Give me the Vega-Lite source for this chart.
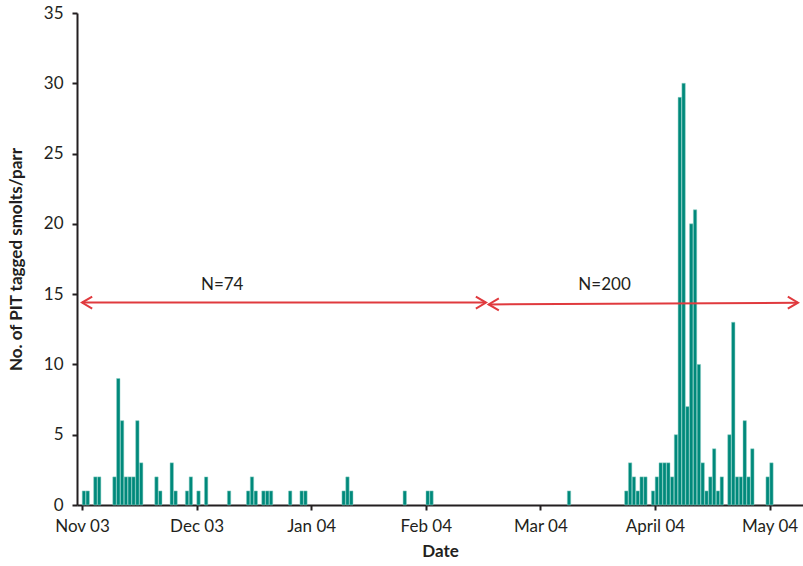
{
  "$schema": "https://vega.github.io/schema/vega-lite/v6.json",
  "width": 726,
  "height": 492,
  "autosize": {"type": "none"},
  "padding": {"left": 77, "top": 13, "right": 0, "bottom": 61},
  "background": "white",
  "config": {
    "view": {"stroke": null},
    "font": "Lato",
    "axis": {
      "grid": false,
      "domainColor": "#231f20",
      "domainWidth": 2,
      "tickColor": "#231f20",
      "tickWidth": 2,
      "tickSize": 5,
      "labelFont": "Lato",
      "labelFontSize": 17,
      "labelColor": "#231f20",
      "titleFont": "Lato",
      "titleFontSize": 17,
      "titleFontWeight": "bold",
      "titleColor": "#231f20"
    }
  },
  "datasets": {
    "counts": [
      {"day": 0, "count": 1}, {"day": 1, "count": 1}, {"day": 3, "count": 2}, {"day": 4, "count": 2},
      {"day": 8, "count": 2}, {"day": 9, "count": 9}, {"day": 10, "count": 6}, {"day": 11, "count": 2},
      {"day": 12, "count": 2}, {"day": 13, "count": 2}, {"day": 14, "count": 6}, {"day": 15, "count": 3},
      {"day": 19, "count": 2}, {"day": 20, "count": 1}, {"day": 23, "count": 3}, {"day": 24, "count": 1},
      {"day": 27, "count": 1}, {"day": 28, "count": 2}, {"day": 30, "count": 1}, {"day": 32, "count": 2},
      {"day": 38, "count": 1}, {"day": 43, "count": 1}, {"day": 44, "count": 2}, {"day": 45, "count": 1},
      {"day": 47, "count": 1}, {"day": 48, "count": 1}, {"day": 49, "count": 1}, {"day": 54, "count": 1},
      {"day": 57, "count": 1}, {"day": 58, "count": 1}, {"day": 68, "count": 1}, {"day": 69, "count": 2},
      {"day": 70, "count": 1}, {"day": 84, "count": 1}, {"day": 90, "count": 1}, {"day": 91, "count": 1},
      {"day": 127, "count": 1},
      {"day": 142, "count": 1}, {"day": 143, "count": 3}, {"day": 144, "count": 2}, {"day": 145, "count": 1},
      {"day": 146, "count": 2}, {"day": 147, "count": 2}, {"day": 149, "count": 1}, {"day": 150, "count": 2},
      {"day": 151, "count": 3}, {"day": 152, "count": 3}, {"day": 153, "count": 3}, {"day": 154, "count": 2},
      {"day": 155, "count": 5}, {"day": 156, "count": 29}, {"day": 157, "count": 30}, {"day": 158, "count": 7},
      {"day": 159, "count": 20}, {"day": 160, "count": 21}, {"day": 161, "count": 10}, {"day": 162, "count": 3},
      {"day": 163, "count": 1}, {"day": 164, "count": 2}, {"day": 165, "count": 4}, {"day": 166, "count": 1},
      {"day": 167, "count": 2}, {"day": 169, "count": 5}, {"day": 170, "count": 13}, {"day": 171, "count": 2},
      {"day": 172, "count": 2}, {"day": 173, "count": 6}, {"day": 174, "count": 2}, {"day": 175, "count": 4},
      {"day": 179, "count": 2}, {"day": 180, "count": 3}
    ],
    "arrows": [
      {"x1": -0.5, "y1": 14.40, "x2": 105.28, "y2": 14.40},
      {"x1": 105.96, "y1": 14.27, "x2": 186.95, "y2": 14.39}
    ],
    "heads": [
      {"x": -0.5, "y": 14.40, "dir": "left"},
      {"x": 105.28, "y": 14.40, "dir": "right"},
      {"x": 105.96, "y": 14.27, "dir": "left"},
      {"x": 186.95, "y": 14.39, "dir": "right"}
    ],
    "labels": [
      {"x": 36.2, "y": 15.65, "label": "N=74"},
      {"x": 136.3, "y": 15.65, "label": "N=200"}
    ]
  },
  "layer": [
    {
      "data": {"name": "counts"},
      "mark": {"type": "bar", "size": 3.4, "color": "#00897b", "stroke": "#8fd0c6", "strokeWidth": 0.5},
      "encoding": {
        "x": {
          "field": "day",
          "type": "quantitative",
          "title": "Date",
          "scale": {"domain": [-0.5, 186.95], "nice": false, "zero": false},
          "axis": {
            "values": [-0.5, 29.5, 59.5, 89.5, 119.5, 149.5, 179.5],
            "labelExpr": "['Nov 03','Dec 03','Jan 04','Feb 04','Mar 04','April 04','May 04'][round((datum.value + 0.5) / 30)]",
            "labelPadding": 8,
            "labelFlush": false,
            "labelOverlap": false,
            "titleY": 46,
            "titleBaseline": "middle"
          }
        },
        "y": {
          "field": "count",
          "type": "quantitative",
          "title": "No. of PIT tagged smolts/parr",
          "scale": {"domain": [0, 35], "nice": false},
          "axis": {
            "values": [0, 5, 10, 15, 20, 25, 30, 35],
            "labelPadding": 9,
            "titleX": -61,
            "titleY": 246,
            "titleBaseline": "middle",
            "titleAlign": "center"
          }
        }
      }
    },
    {
      "data": {"name": "arrows"},
      "mark": {"type": "rule", "color": "#e03a3e", "strokeWidth": 2},
      "encoding": {
        "x": {"field": "x1", "type": "quantitative", "title": "Date"},
        "y": {"field": "y1", "type": "quantitative", "title": "No. of PIT tagged smolts/parr"},
        "x2": {"field": "x2"},
        "y2": {"field": "y2"}
      }
    },
    {
      "data": {"name": "heads"},
      "mark": {"type": "point", "filled": false, "stroke": "#e03a3e", "strokeWidth": 2, "size": 144, "opacity": 1},
      "encoding": {
        "x": {"field": "x", "type": "quantitative", "title": "Date"},
        "y": {"field": "y", "type": "quantitative", "title": "No. of PIT tagged smolts/parr"},
        "shape": {
          "field": "dir",
          "type": "nominal",
          "scale": {"domain": ["left", "right"], "range": ["M1.7,-1L0,0L1.7,1", "M-1.7,-1L0,0L-1.7,1"]},
          "legend": null
        }
      }
    },
    {
      "data": {"name": "labels"},
      "mark": {"type": "text", "font": "Lato", "fontSize": 17, "color": "#231f20", "baseline": "middle", "align": "center"},
      "encoding": {
        "x": {"field": "x", "type": "quantitative", "title": "Date"},
        "y": {"field": "y", "type": "quantitative", "title": "No. of PIT tagged smolts/parr"},
        "text": {"field": "label"}
      }
    }
  ]
}
